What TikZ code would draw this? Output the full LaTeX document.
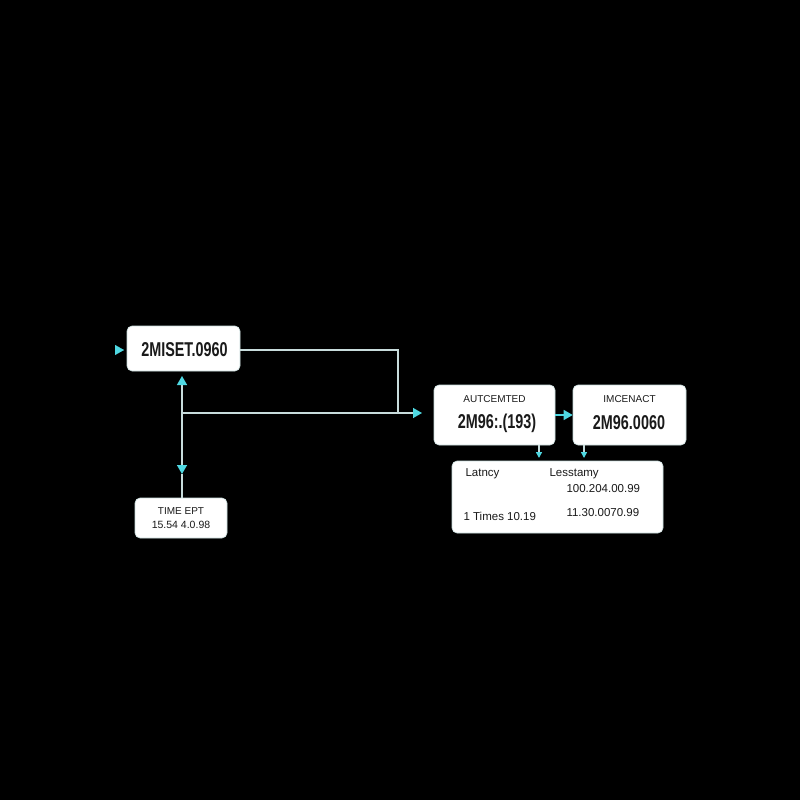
\documentclass[tikz,border=0pt]{standalone}
\usepackage{fontspec}
\setmainfont{Liberation Sans}
\newfontfamily\condbold[FakeStretch=0.72]{Liberation Sans}
\usetikzlibrary{arrows.meta}
\definecolor{cyanc}{HTML}{4FD8E2}
\definecolor{linec}{HTML}{C8DCDC}
\definecolor{txt}{HTML}{1A1A1A}
\tikzset{
  card/.style={fill=white, draw=linec, line width=0.6pt, rounded corners=5pt, inner sep=0pt},
  conn/.style={draw=linec, line width=1.4pt},
  tip/.style={-{Triangle[length=9pt,width=10pt,color=cyanc]}},
  smalltip/.style={-{Triangle[length=6pt,width=6pt,color=cyanc]}},
  big/.style={font=\condbold\bfseries\fontsize{20}{22}\selectfont, text=txt},
  lbl/.style={font=\fontsize{10}{12}\selectfont, text=txt},
  lblw/.style={font=\fontsize{10.5}{12}\selectfont, text=txt},
  tl/.style={font=\fontsize{11.5}{13}\selectfont, text=txt, anchor=west},
}
\begin{document}
\begin{tikzpicture}[x=1pt,y=-1pt]
\fill[black] (0,0) rectangle (800,800);
\useasboundingbox (0,0) rectangle (800,800);

% cards
\node[card, minimum width=113pt, minimum height=45pt] (b1) at (183.5,348.5) {};
\node[big] (t1) at (184.5,350) {2MISET.0960};

\node[card, minimum width=92pt, minimum height=40pt] (b2) at (181,518) {};
\node[lbl] (t2a) at (181,511) {TIME EPT};
\node[lblw] (t2b) at (181,525) {15.54 4.0.98};

\node[card, minimum width=121pt, minimum height=60pt] (b3) at (494.5,415) {};
\node[lbl] (t3a) at (494.5,399) {AUTCEMTED};
\node[big] (t3b) at (497,423) {2M96:.(193)};

\node[card, minimum width=113pt, minimum height=60pt] (b4) at (629.5,415) {};
\node[lbl] (t4a) at (629.5,399) {IMCENACT};
\node[big] (t4b) at (629,423) {2M96.0060};

\node[card, minimum width=211pt, minimum height=72pt] (b5) at (557.5,497) {};
\node[tl] (l1) at (462,474) {Latncy};
\node[tl] (l2) at (546,474) {Lesstamy};
\node[tl] (l3) at (563,489) {100.204.00.99};
\node[tl] (l4) at (460,516) {1 Times 10.19};
\node[tl] (l5) at (563,513) {11.30.0070.99};

% coordinates
\coordinate (in1) at (115,350);
\coordinate (in1e) at (124,350);
\coordinate (c1) at (398,350);
\coordinate (j) at (182,413);
\coordinate (c2) at (398,413);
\coordinate (a1) at (422,413);
\coordinate (up) at (182,376);
\coordinate (dn) at (182,474);

% connectors
\draw[tip, draw=cyanc, line width=0.1pt] (in1) -- (in1e);
\draw[conn] (b1.east |- c1) -- (c1) -- (c2);
\draw[conn, tip] (j) -- (a1);
\draw[conn, tip] (j) -- (up);
\draw[conn, tip] (j) -- (dn);
\draw[conn] (dn) -- (dn |- b2.north);
\draw[conn, draw=cyanc, tip] (b3.east) -- (b4.west);
\draw[conn, smalltip] (539,445) -- (539,458);
\draw[conn, smalltip] (584,445) -- (584,458);
\end{tikzpicture}
\end{document}
